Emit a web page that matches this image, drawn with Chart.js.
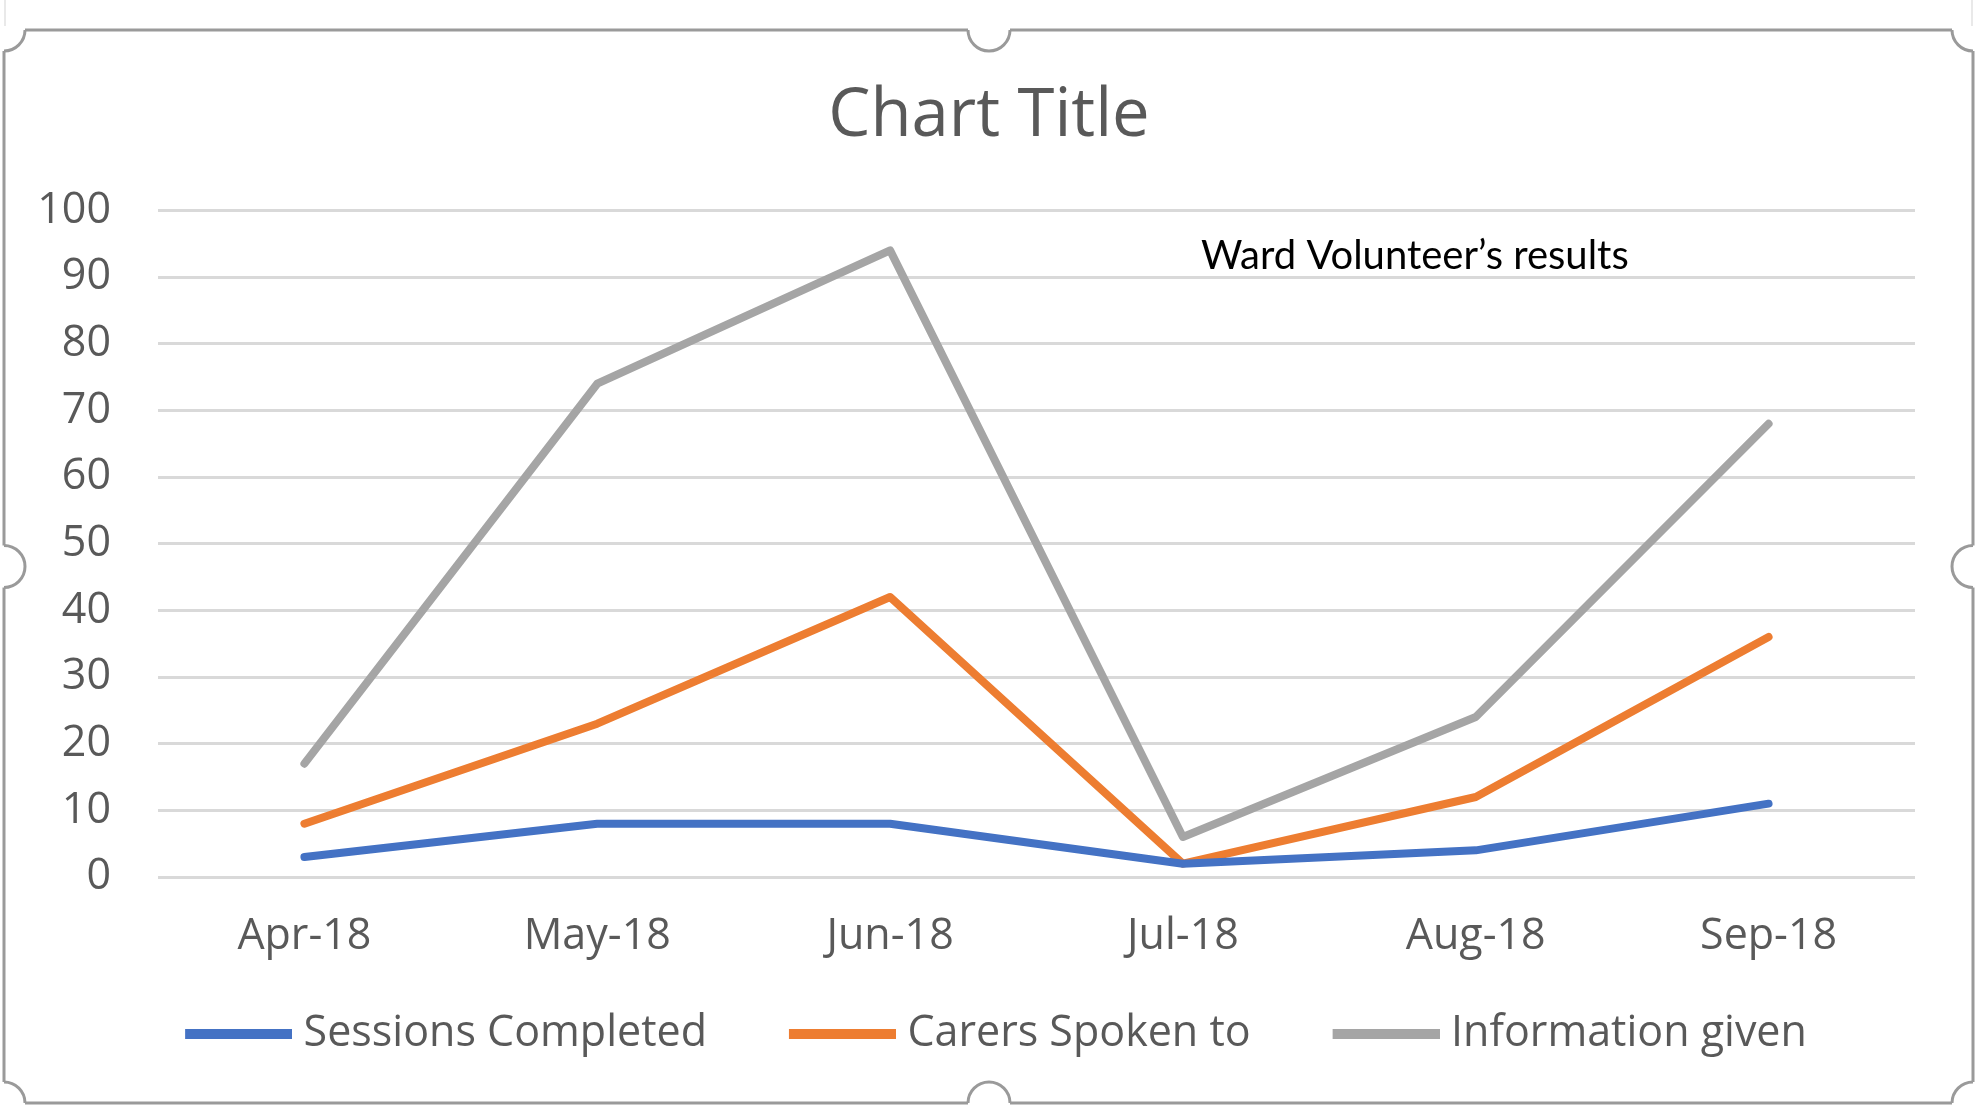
<!DOCTYPE html>
<html>
<head>
<meta charset="utf-8">
<script src="https://cdn.jsdelivr.net/npm/chart.js@4.4.1/dist/chart.umd.min.js"></script>
<style>
  html, body { margin: 0; padding: 0; background: #fff; }
  #wrap { position: relative; width: 1978px; height: 1106px; }
</style>
</head>
<body>
<div id="wrap"><canvas id="chart" width="1978" height="1106"></canvas></div>
<script>
const months = ["Apr-18", "May-18", "Jun-18", "Jul-18", "Aug-18", "Sep-18"];
const sessionsCompleted = [3, 8, 8, 2, 4, 11];
const carersSpokenTo = [8, 23, 42, 2, 12, 36];
const informationGiven = [17, 74, 94, 6, 24, 68];
const yMin = 0;
const yMax = 100;
const yStep = 10;

const GREY_TEXT = "#595959";
const FONT = "'Open Sans', 'Noto Sans', sans-serif";

// legend sample: a short thick line sitting at the right end of the box,
// so it hugs its text and leaves room before it (Excel spacing)
const LEG_BOX = 133;
const LEG_LINE = 107;
function legendSwatch(color) {
  const c = document.createElement("canvas");
  c.width = LEG_BOX + 20;
  c.height = 10;
  const g = c.getContext("2d");
  g.fillStyle = color;
  g.fillRect(c.width - LEG_LINE, 0, LEG_LINE, 10);
  return c;
}

// the blank lead of the first swatch pushes the row right; pull it back
const legendNudge = {
  id: "legendNudge",
  afterLayout(chart) {
    chart.legend.left -= 11;
    chart.legend.right -= 11;
  },
};

// selection frame around the chart, like the Excel screenshot
const framePlugin = {
  id: "frame",
  afterDraw(chart) {
    const ctx = chart.ctx;
    const W = chart.width, H = chart.height;
    const l = 4, t = 30, r = W - 5, b = H - 3, rad = 21;
    ctx.save();
    ctx.strokeStyle = "#e2e2e2";
    ctx.lineWidth = 1.5;
    ctx.beginPath();
    ctx.moveTo(l + 1, 0); ctx.lineTo(l + 1, t - 4);
    ctx.moveTo(r - 1, 0); ctx.lineTo(r - 1, t - 4);
    ctx.stroke();

    ctx.strokeStyle = "#9a9a9a";
    ctx.lineWidth = 3;
    const mx = W / 2, my = (t + b) / 2;
    ctx.beginPath();
    ctx.moveTo(l + rad, t); ctx.lineTo(mx - rad, t);
    ctx.moveTo(mx + rad, t); ctx.lineTo(r - rad, t);
    ctx.moveTo(r, t + rad); ctx.lineTo(r, my - rad);
    ctx.moveTo(r, my + rad); ctx.lineTo(r, b - rad);
    ctx.moveTo(r - rad, b); ctx.lineTo(mx + rad, b);
    ctx.moveTo(mx - rad, b); ctx.lineTo(l + rad, b);
    ctx.moveTo(l, b - rad); ctx.lineTo(l, my + rad);
    ctx.moveTo(l, my - rad); ctx.lineTo(l, t + rad);
    ctx.stroke();
    const arcs = [
      [mx, t, 0, Math.PI], [mx, b, Math.PI, 2 * Math.PI],
      [l, my, -Math.PI / 2, Math.PI / 2], [r, my, Math.PI / 2, 1.5 * Math.PI],
      [l, t, 0, Math.PI / 2], [r, t, Math.PI / 2, Math.PI],
      [r, b, Math.PI, 1.5 * Math.PI], [l, b, 1.5 * Math.PI, 2 * Math.PI],
    ];
    arcs.forEach(([x, y, a0, a1]) => {
      ctx.beginPath();
      ctx.arc(x, y, rad, a0, a1);
      ctx.stroke();
    });
    ctx.restore();
  },
};

// free text box inside the plot
const notePlugin = {
  id: "note",
  afterDatasetsDraw(chart) {
    const { ctx, chartArea } = chart;
    const x = chartArea.left + (chartArea.right - chartArea.left) * 0.5936;
    const y = chart.scales.y.getPixelForValue(93.1);
    ctx.save();
    ctx.fillStyle = "#000";
    ctx.font = "40px Lato, 'Open Sans', sans-serif";
    ctx.textAlign = "left";
    ctx.textBaseline = "middle";
    ctx.fillText("Ward Volunteer\u2019s results", x, y);
    ctx.restore();
  },
};

function series(label, data, color) {
  return {
    label,
    data,
    borderColor: color,
    backgroundColor: color,
    borderWidth: 8,
    borderCapStyle: "round",
    borderJoinStyle: "round",
    pointRadius: 0,
    pointHoverRadius: 0,
    tension: 0,
    fill: false,
    yAxisID: "y",
  };
}

new Chart(document.getElementById("chart"), {
  type: "line",
  data: {
    labels: months,
    datasets: [
      series("Sessions Completed", sessionsCompleted, "#4472C4"),
      series("Carers Spoken to", carersSpokenTo, "#ED7D31"),
      series("Information given", informationGiven, "#A5A5A5"),
    ],
  },
  options: {
    responsive: false,
    animation: false,
    devicePixelRatio: 1,
    layout: { padding: { left: 0, right: 0, top: 6, bottom: 41 } },
    plugins: {
      tooltip: { enabled: false },
      title: {
        display: true,
        text: "Chart Title",
        color: GREY_TEXT,
        font: { family: FONT, size: 67, weight: "normal" },
        padding: { top: 71, bottom: 53 },
      },
      legend: {
        position: "bottom",
        labels: {
          color: GREY_TEXT,
          font: { family: FONT, size: 43 },
          usePointStyle: true,
          pointStyleWidth: LEG_BOX,
          boxHeight: 10,
          padding: 46,
          generateLabels(chart) {
            return chart.data.datasets.map((d, i) => ({
              text: d.label,
              fillStyle: d.borderColor,
              strokeStyle: d.borderColor,
              lineWidth: 0,
              pointStyle: legendSwatch(d.borderColor),
              rotation: 0,
              hidden: false,
              datasetIndex: i,
              fontColor: GREY_TEXT,
            }));
          },
        },
      },
    },
    scales: {
      x: {
        offset: true,
        afterFit(scale) { scale.height = 89; },
        grid: { display: false, drawTicks: false },
        border: { display: false },
        ticks: { color: GREY_TEXT, font: { family: FONT, size: 43 }, padding: 34, maxRotation: 0 },
      },
      y: {
        min: yMin,
        max: yMax,
        afterFit(scale) { scale.width = 158; },
        grid: { color: "#d9d9d9", lineWidth: 3, drawTicks: false },
        border: { display: false },
        ticks: { stepSize: yStep, color: GREY_TEXT, font: { family: FONT, size: 43 }, padding: 47 },
      },
      // empty right-hand gutter so the plot stops short of the frame
      gutter: {
        type: "linear",
        position: "right",
        afterFit(scale) { scale.width = 63; },
        grid: { display: false, drawTicks: false },
        border: { display: false },
        ticks: { display: false },
      },
    },
  },
  plugins: [notePlugin, legendNudge, framePlugin],
});
</script>
</body>
</html>
